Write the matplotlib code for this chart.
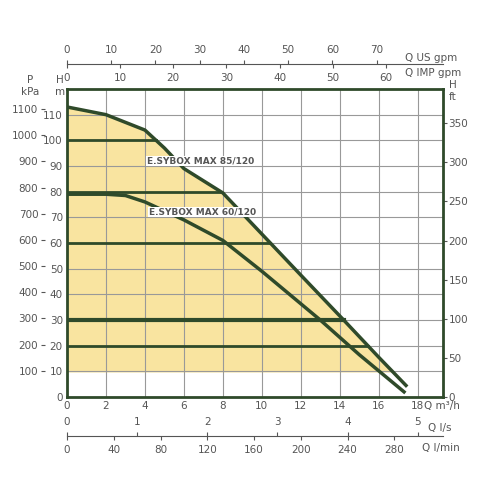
import matplotlib
matplotlib.use("Agg")
import matplotlib.pyplot as plt
import numpy as np

q85 = [0, 2, 4, 5, 6, 8, 10, 12, 14.2, 16, 17.4]
h85 = [113, 110, 104, 97, 89, 79.5, 63.5, 47.5, 30, 15.5, 4.5]
q60 = [0, 2, 3, 4, 6, 8, 10, 13, 15, 17.3]
h60 = [79, 79, 78.5, 76, 69, 61, 49, 30, 16.5, 2]
hlines = [100, 80, 60, 30, 20]
dark = '#2f4a2a'
gray = '#999999'
tc = '#555555'

fig = plt.figure(figsize=(5, 5), dpi=100)
ax = fig.add_axes([0.134, 0.206, 0.752, 0.616])
ax.set_xlim(0, 19.3)
ax.set_ylim(0, 120)

qq = np.linspace(0, 17.4, 400)
hh = np.interp(qq, q85, h85)
ax.fill_between(qq, 10, hh, where=hh >= 10, color='#f9e4a0', zorder=1)

for x in range(2, 19, 2):
    ax.axvline(x, color=gray, lw=0.8, zorder=2)
for y in range(10, 120, 10):
    ax.axhline(y, color=gray, lw=0.8, zorder=2)
for y in hlines:
    xe = np.interp(-y, [-v for v in h85], q85)
    ax.plot([0, xe], [y, y], color=dark, lw=3 if y == 30 else 2, zorder=3)
ax.plot(q85, h85, color=dark, lw=2.5, zorder=4)
ax.plot(q60, h60, color=dark, lw=2.5, zorder=4)
ax.text(4.1, 91, 'E.SYBOX MAX 85/120', fontsize=6.5, fontweight='bold', color=tc,
        bbox=dict(fc='white', ec='none', pad=0.5), zorder=5)
ax.text(4.2, 71, 'E.SYBOX MAX 60/120', fontsize=6.5, fontweight='bold', color=tc,
        bbox=dict(fc='white', ec='none', pad=0.5), zorder=5)

for s in ax.spines.values():
    s.set_color(dark); s.set_linewidth(2)
ax.set_xticks(range(0, 19, 2))
ax.set_yticks(range(0, 111, 10))
ax.tick_params(labelsize=7.5, colors=tc, length=0, pad=3)

def spine_style(sec, which):
    sec.spines[which].set_color(tc); sec.spines[which].set_linewidth(0.8)
    sec.tick_params(labelsize=7.5, colors=tc, length=3, width=0.8)

secr = ax.secondary_yaxis('right', functions=(lambda m: m / 0.3048, lambda f: f * 0.3048))
secr.set_yticks(range(0, 351, 50))
secr.spines['right'].set_visible(False)
secr.tick_params(labelsize=7.5, colors=tc, length=3, pad=1)

secl = ax.secondary_yaxis(-0.058, functions=(lambda m: m * 9.80665, lambda p: p / 9.80665))
secl.set_yticks(range(100, 1101, 100))
secl.spines['left'].set_visible(False)
secl.tick_params(labelsize=7.5, colors=tc, length=3, pad=2)

t1 = ax.secondary_xaxis(1.081, functions=(lambda q: q * 4.403, lambda g: g / 4.403))
t1.set_xticks(range(0, 71, 10)); spine_style(t1, 'top')
t2 = ax.secondary_xaxis(1.081, functions=(lambda q: q * 3.666, lambda g: g / 3.666))
t2.set_xticks(range(0, 61, 10))
t2.xaxis.set_ticks_position('bottom')
t2.tick_params(labelsize=7.5, colors=tc, length=3, labelbottom=True, labeltop=False)
for s in t2.spines.values(): s.set_visible(False)

b1 = ax.secondary_xaxis(-0.127, functions=(lambda q: q / 3.6, lambda l: l * 3.6))
b1.set_xticks(range(0, 6)); spine_style(b1, 'bottom')
b1.xaxis.set_ticks_position('top')
b1.tick_params(labeltop=True, labelbottom=False)
b2 = ax.secondary_xaxis(-0.127, functions=(lambda q: q * 16.6667, lambda l: l / 16.6667))
b2.set_xticks(range(0, 281, 40))
b2.tick_params(labelsize=7.5, colors=tc, length=3)
for s in b2.spines.values(): s.set_visible(False)

kw = dict(fontsize=7.5, color=tc, transform=fig.transFigure)
fig.text(0.81, 0.878, 'Q US gpm', **kw)
fig.text(0.81, 0.848, 'Q IMP gpm', **kw)
fig.text(0.848, 0.182, 'Q m³/h', **kw)
fig.text(0.855, 0.138, 'Q l/s', **kw)
fig.text(0.845, 0.098, 'Q l/min', **kw)
fig.text(0.06, 0.81, 'P\nkPa', ha='center', linespacing=1.2, **kw)
fig.text(0.12, 0.81, 'H\nm', ha='center', linespacing=1.2, **kw)
fig.text(0.905, 0.80, 'H\nft', ha='center', linespacing=1.2, **kw)

fig.savefig('out.png', dpi=100)
